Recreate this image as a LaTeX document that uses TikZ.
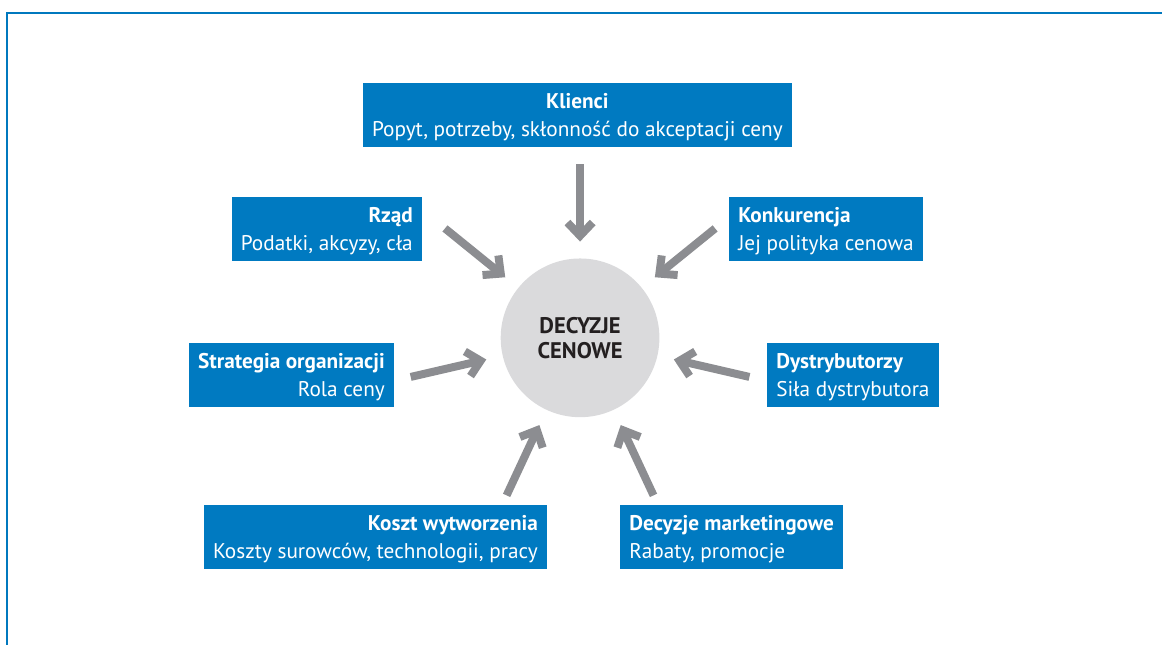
\documentclass[tikz,border=0pt]{standalone}
\usepackage{fontspec}
\setmainfont{PT Sans}
\usetikzlibrary{arrows.meta,calc}
\definecolor{pcblue}{RGB}{0,122,193}
\definecolor{pcframe}{RGB}{0,120,190}
\definecolor{pcgray}{RGB}{218,218,220}
\definecolor{pcarrow}{RGB}{140,141,145}
\definecolor{pcink}{RGB}{35,31,32}

\begin{document}
\begin{tikzpicture}[
    factor/.style={
        fill=pcblue,
        text=white,
        inner xsep=0.24cm,
        inner ysep=0pt,
        minimum height=1.69cm,
        text depth=0pt,
        font=\fontsize{16}{21.5}\selectfont
    },
    hub/.style={
        circle,
        fill=pcgray,
        minimum size=4.2cm,
        inner sep=0pt,
        align=center,
        text=pcink,
        font=\fontsize{17}{18.75}\selectfont\bfseries
    },
    push/.style={
        -{Straight Barb[sharp, length=10pt, width=19pt]},
        line width=6pt,
        pcarrow,
        shorten >=0.44cm
    }
]
\useasboundingbox (-15.35,-8.12) rectangle (15.40,8.94);

% Open frame: only the top and left edges fall inside the page.
\draw[pcframe, line width=1.9pt] (-15.16,-8.12) -- (-15.16,8.60) -- (15.40,8.60);

% Central decision and the factors around it.
\node[hub] (dc) at (0,0) {DECYZJE\\CENOWE};

\node[factor, align=center] (kl) at (-0.07,5.90)
    {\textbf{Klienci}\\Popyt, potrzeby, skłonność do akceptacji ceny};
\node[factor, align=right, anchor=east] (rz) at (-4.18,2.88)
    {\textbf{Rząd}\\Podatki, akcyzy, cła};
\node[factor, align=left, anchor=west] (ko) at (3.94,2.88)
    {\textbf{Konkurencja}\\Jej polityka cenowa};
\node[factor, align=right, anchor=east] (st) at (-4.92,-0.98)
    {\textbf{Strategia organizacji}\\Rola ceny};
\node[factor, align=left, anchor=west] (dy) at (4.95,-0.98)
    {\textbf{Dystrybutorzy}\\Siła dystrybutora};
\node[factor, align=right, anchor=east] (kw) at (-0.87,-5.27)
    {\textbf{Koszt wytworzenia}\\Koszty surowców, technologii, pracy};
\node[factor, align=left, anchor=west] (dm) at (1.06,-5.27)
    {\textbf{Decyzje marketingowe}\\Rabaty, promocje};

% Radial arrows, each one aimed at the centre of the circle.
\foreach \src/\ang in {kl/90, rz/141, ko/39, st/193, dy/-13, kw/245, dm/295} {
    \coordinate (\src-tail) at ($(dc.center)+(\ang:4.60cm)$);
    \draw[push] (\src-tail) -- (dc);
}

\end{tikzpicture}
\end{document}
